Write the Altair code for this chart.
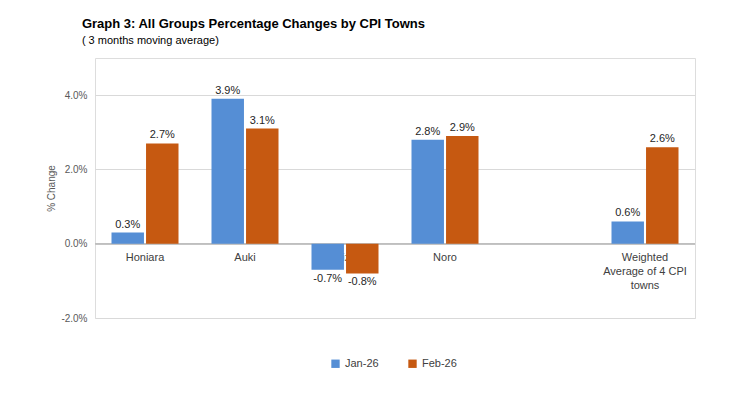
import altair as alt
import pandas as pd

cats = ["Honiara", "Auki", "Gizo", "Noro", "blank", "Weighted"]
cat_labels = ["Honiara", "Auki", "Gizo", "Noro", "", "Weighted|Average of 4 CPI|towns"]
bar_cats = ["Honiara", "Auki", "Gizo", "Noro", "Weighted"]
jan = [0.003, 0.039, -0.007, 0.028, 0.006]
feb = [0.027, 0.031, -0.008, 0.029, 0.026]
yticks = [-0.02, -0.01, 0.0, 0.01, 0.02, 0.03, 0.04, 0.05]

rows = []
for c, j, f in zip(bar_cats, jan, feb):
    rows.append({"cat": c, "series": "Jan-26", "v": j, "lab": f"{j*100:.1f}%"})
    rows.append({"cat": c, "series": "Feb-26", "v": f, "lab": f"{f*100:.1f}%"})
df = pd.DataFrame(rows)
labdf = pd.DataFrame({"cat": cats, "label": cat_labels, "v": [0.0] * len(cats)})

xs = alt.X("cat:N", scale=alt.Scale(domain=cats, paddingInner=0.33, paddingOuter=0.165), axis=None)
ys = alt.Y("v:Q", scale=alt.Scale(domain=[-0.02, 0.05]),
           axis=alt.Axis(values=yticks, labelOverlap=False,
                         labelExpr="replace(format(datum.value, '.1%'), '\u2212', '-')",
                         title="% Change", domain=False, ticks=False, gridColor="#D9D9D9",
                         labelFont="Liberation Sans", labelFontSize=10, labelColor="#595959",
                         titleFont="Liberation Sans", titleFontSize=10, titleFontWeight="normal",
                         titleColor="#595959", labelPadding=8))
order = ["Jan-26", "Feb-26"]
col = alt.Color("series:N", scale=alt.Scale(domain=order, range=["#558ED5", "#C65911"]),
                sort=order,
                legend=alt.Legend(title=None, orient="none", legendX=235, legendY=300, direction="horizontal",
                                  symbolType="square", symbolSize=70, labelFont="Liberation Sans",
                                  labelFontSize=11, labelColor="#404040", columnPadding=28))
xo = alt.XOffset("series:N", sort=order, scale=alt.Scale(domain=order, paddingInner=0.06))

catText = alt.Chart(labdf).mark_text(font="Liberation Sans", fontSize=11, color="#404040",
                                     baseline="top", dy=8, lineHeight=14, lineBreak="|").encode(
    x=xs, y=ys, text="label:N")
zero = alt.Chart(labdf).mark_rule(color="#BFBFBF").encode(y=alt.datum(0))
bars = alt.Chart(df).mark_bar().encode(x=xs, y=ys, xOffset=xo, color=col)
pos = alt.Chart(df).transform_filter("datum.v >= 0").mark_text(
    font="Liberation Sans", fontSize=11, color="#262626", baseline="bottom", dy=-3).encode(
    x=xs, y=ys, xOffset=xo, text="lab:N")
neg = alt.Chart(df).transform_filter("datum.v < 0").mark_text(
    font="Liberation Sans", fontSize=11, color="#262626", baseline="top", dy=3).encode(
    x=xs, y=ys, xOffset=xo, text="lab:N")

chart = alt.layer(catText, zero, bars, pos, neg).properties(
    width=600, height=260,
    autosize=alt.AutoSizeParams(type="none"),
    padding={"left": 87, "top": 50, "right": 36, "bottom": 79},
    title=alt.TitleParams("Graph 3: All Groups Percentage Changes by CPI Towns",
                          subtitle="( 3 months moving average)", anchor="start", dx=35, offset=12,
                          font="Liberation Sans", fontSize=13, fontWeight="bold", color="#000000",
                          subtitleFont="Liberation Sans", subtitleFontSize=11, subtitleColor="#000000",
                          subtitlePadding=4),
).configure_view(stroke="transparent").configure(background="white")

chart.save("out.html", embed_options={"renderer": "svg", "actions": False})
